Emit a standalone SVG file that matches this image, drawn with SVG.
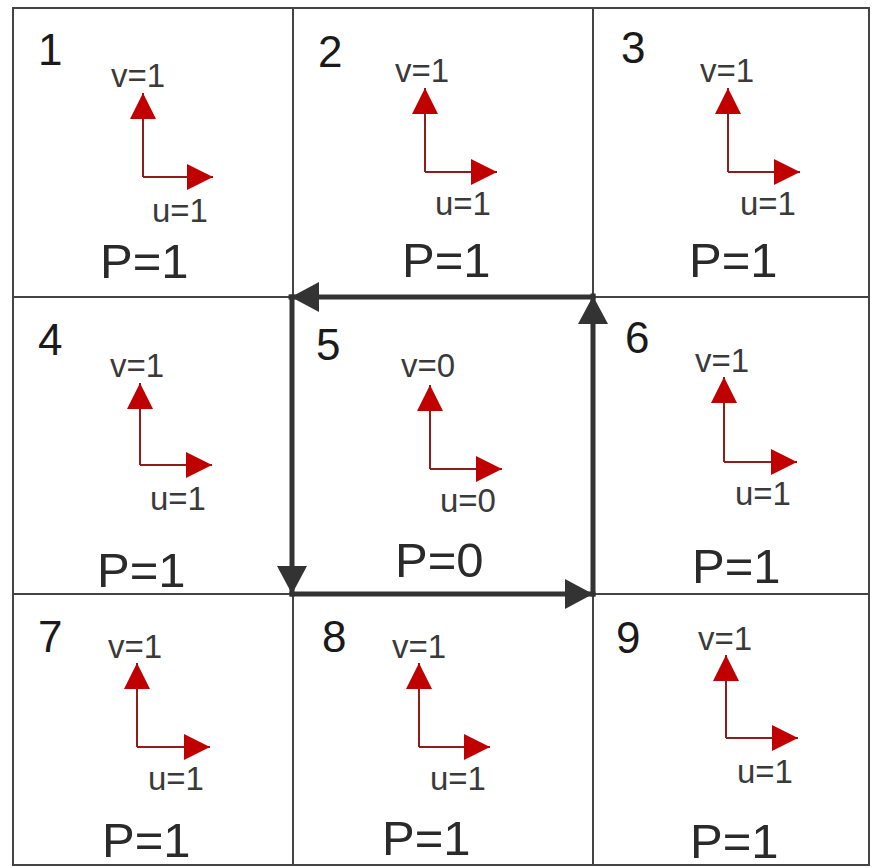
<svg xmlns="http://www.w3.org/2000/svg" width="872" height="868" viewBox="0 0 872 868">
  <style>
    .grid { stroke: #444; stroke-width: 2; fill: none; }
    .num { font-family: "Liberation Sans", Arial, sans-serif; font-size: 44px; fill: #1a1a1a; }
    .vel { font-family: "Liberation Sans", Arial, sans-serif; font-size: 33px; fill: #3a3a3a; }
    .p { font-family: "Liberation Sans", Arial, sans-serif; font-size: 49px; fill: #2a2a2a; }
    .vec { stroke: #8e1d1d; stroke-width: 2; fill: none; marker-end: url(#redhead); }
    .circ { stroke: #333; stroke-width: 5; fill: none; stroke-linecap: square; marker-end: url(#blackhead); }
  </style>
  <defs>
    <marker id="redhead" markerUnits="userSpaceOnUse" markerWidth="26" markerHeight="26" viewBox="0 0 24 24" refX="24" refY="12" orient="auto">
      <path d="M0,0 L24,12 L0,24 z" fill="#c00000"/>
    </marker>
    <marker id="blackhead" markerUnits="userSpaceOnUse" markerWidth="28" markerHeight="30" viewBox="0 0 28 30" refX="28" refY="15" orient="auto">
      <path d="M0,0 L28,15 L0,30 z" fill="#333"/>
    </marker>
  </defs>
  <rect width="872" height="868" fill="#fff"/>
  <g id="grid">
    <rect class="grid" x="13" y="8" width="856" height="857"/>
    <line class="grid" x1="293" y1="8" x2="293" y2="865"/>
    <line class="grid" x1="593" y1="8" x2="593" y2="865"/>
    <line class="grid" x1="13" y1="297" x2="869" y2="297"/>
    <line class="grid" x1="13" y1="594" x2="869" y2="594"/>
  </g>
  <g id="cell1">
    <text class="num" x="38" y="65">1</text>
    <text class="vel" x="111" y="87">v=1</text>
    <path class="vec" d="M143,177 V93"/>
    <path class="vec" d="M143,177 H213"/>
    <text class="vel" x="152" y="222">u=1</text>
    <text class="p" x="100" y="278">P=1</text>
  </g>
  <g id="cell2">
    <text class="num" x="318" y="67">2</text>
    <text class="vel" x="395" y="82">v=1</text>
    <path class="vec" d="M425,172 V88"/>
    <path class="vec" d="M425,172 H497"/>
    <text class="vel" x="435" y="215">u=1</text>
    <text class="p" x="402" y="277">P=1</text>
  </g>
  <g id="cell3">
    <text class="num" x="621" y="63">3</text>
    <text class="vel" x="700" y="82">v=1</text>
    <path class="vec" d="M728,172 V88"/>
    <path class="vec" d="M728,172 H800"/>
    <text class="vel" x="740" y="215">u=1</text>
    <text class="p" x="689" y="277">P=1</text>
  </g>
  <g id="cell4">
    <text class="num" x="38" y="355">4</text>
    <text class="vel" x="110" y="377">v=1</text>
    <path class="vec" d="M140,465 V383"/>
    <path class="vec" d="M140,465 H212"/>
    <text class="vel" x="150" y="510">u=1</text>
    <text class="p" x="97" y="587">P=1</text>
  </g>
  <g id="cell5">
    <text class="num" x="316" y="360">5</text>
    <text class="vel" x="401" y="377">v=0</text>
    <path class="vec" d="M430,469 V385"/>
    <path class="vec" d="M430,469 H502"/>
    <text class="vel" x="440" y="512">u=0</text>
    <text class="p" x="395" y="577">P=0</text>
  </g>
  <g id="cell6">
    <text class="num" x="625" y="353">6</text>
    <text class="vel" x="695" y="372">v=1</text>
    <path class="vec" d="M724,462 V377"/>
    <path class="vec" d="M724,462 H797"/>
    <text class="vel" x="735" y="505">u=1</text>
    <text class="p" x="692" y="583">P=1</text>
  </g>
  <g id="cell7">
    <text class="num" x="38" y="652">7</text>
    <text class="vel" x="108" y="658">v=1</text>
    <path class="vec" d="M137,747 V663"/>
    <path class="vec" d="M137,747 H210"/>
    <text class="vel" x="148" y="790">u=1</text>
    <text class="p" x="102" y="857">P=1</text>
  </g>
  <g id="cell8">
    <text class="num" x="322" y="652">8</text>
    <text class="vel" x="392" y="658">v=1</text>
    <path class="vec" d="M419,747 V663"/>
    <path class="vec" d="M419,747 H490"/>
    <text class="vel" x="430" y="790">u=1</text>
    <text class="p" x="382" y="855">P=1</text>
  </g>
  <g id="cell9">
    <text class="num" x="616" y="653">9</text>
    <text class="vel" x="698" y="650">v=1</text>
    <path class="vec" d="M726,738 V655"/>
    <path class="vec" d="M726,738 H798"/>
    <text class="vel" x="737" y="783">u=1</text>
    <text class="p" x="690" y="858">P=1</text>
  </g>
  <g id="connectors">
    <path class="circ" d="M292,594 H593"/>
    <path class="circ" d="M593,594 V296"/>
    <path class="circ" d="M593,297 H291"/>
    <path class="circ" d="M292,297 V594"/>
  </g>
</svg>
